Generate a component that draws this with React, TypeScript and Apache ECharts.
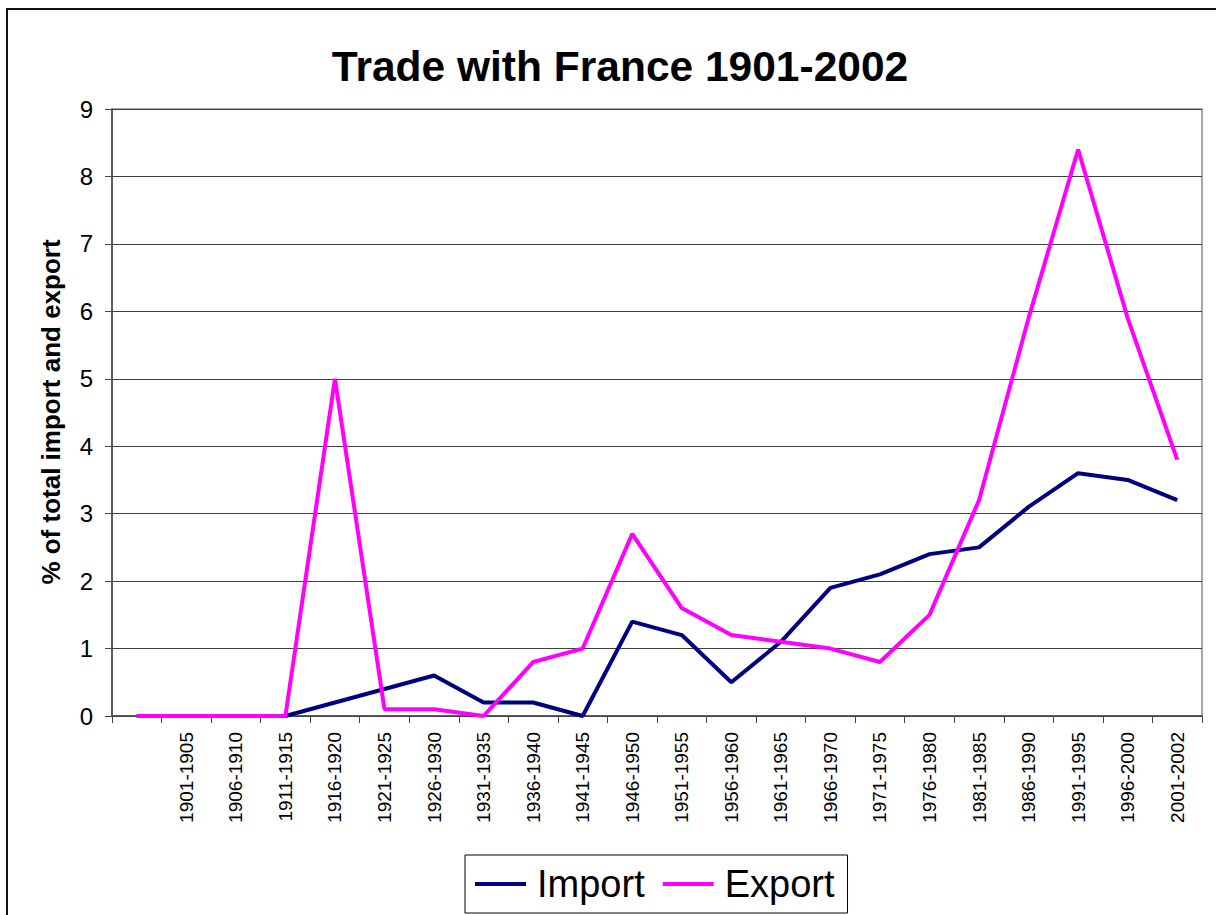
import React, { useEffect, useRef } from "react";
import * as echarts from "echarts";

const categories = [
  "",
  "1901-1905",
  "1906-1910",
  "1911-1915",
  "1916-1920",
  "1921-1925",
  "1926-1930",
  "1931-1935",
  "1936-1940",
  "1941-1945",
  "1946-1950",
  "1951-1955",
  "1956-1960",
  "1961-1965",
  "1966-1970",
  "1971-1975",
  "1976-1980",
  "1981-1985",
  "1986-1990",
  "1991-1995",
  "1996-2000",
  "2001-2002",
];

const importValues = [0, 0, 0, 0, 0.2, 0.4, 0.6, 0.2, 0.2, 0, 1.4, 1.2, 0.5, 1.1, 1.9, 2.1, 2.4, 2.5, 3.1, 3.6, 3.5, 3.2];
const exportValues = [0, 0, 0, 0, 5.0, 0.1, 0.1, 0, 0.8, 1.0, 2.7, 1.6, 1.2, 1.1, 1.0, 0.8, 1.5, 3.2, 5.9, 8.4, 5.9, 3.8];

const titleText = "Trade with France 1901-2002";
const yAxisTitle = "% of total import and export";

const FONT = "'Liberation Sans', Arial, sans-serif";

export default function App() {
  const ref = useRef<HTMLDivElement>(null);

  useEffect(() => {
    if (!ref.current) return;
    const chart = echarts.init(ref.current, undefined, { renderer: "svg" });
    chart.setOption({
      animation: false,
      backgroundColor: "#ffffff",
      title: {
        text: titleText,
        left: 615,
        top: 40,
        textAlign: "center",
        textStyle: { fontFamily: FONT, fontSize: 42.5, fontWeight: "bold", color: "#000" },
      },
      graphic: [
        {
          type: "rect",
          shape: { x: 7, y: 9, width: 1400, height: 1200 },
          style: { fill: "none", stroke: "#111", lineWidth: 2 },
          silent: true,
        },
        {
          type: "text",
          x: 51,
          y: 412,
          rotation: Math.PI / 2,
          style: {
            text: yAxisTitle,
            fontFamily: FONT,
            fontSize: 26,
            fontWeight: "bold",
            fill: "#000",
            textAlign: "center",
            textVerticalAlign: "middle",
          },
        },
      ],
      legend: {
        left: 465,
        top: 855,
        orient: "horizontal",
        padding: [9, 13, 9, 10],
        itemGap: 18,
        itemWidth: 51,
        itemHeight: 4,
        icon: "rect",
        borderColor: "#000",
        borderWidth: 1,
        textStyle: { fontFamily: FONT, fontSize: 38, color: "#000", lineHeight: 40, padding: [0, 0, 0, 6] },
        data: ["Import", "Export"],
      },
      grid: {
        left: 112,
        top: 109,
        right: 14,
        bottom: 199,
        show: true,
        borderColor: "#8c8c8c",
        borderWidth: 1.5,
        backgroundColor: "transparent",
      },
      xAxis: {
        type: "category",
        data: categories,
        boundaryGap: true,
        axisLine: { show: true, lineStyle: { color: "#444", width: 1.5 } },
        axisTick: { show: true, interval: 0, length: 7, lineStyle: { color: "#444" } },
        axisLabel: {
          interval: 0,
          rotate: 90,
          margin: 16,
          fontFamily: FONT,
          fontSize: 19,
          color: "#000",
        },
        splitLine: { show: false },
      },
      yAxis: {
        type: "value",
        min: 0,
        max: 9,
        interval: 1,
        axisLine: { show: true, lineStyle: { color: "#444", width: 1.5 } },
        axisTick: { show: true, length: 7, lineStyle: { color: "#444" } },
        axisLabel: { margin: 19, fontFamily: FONT, fontSize: 24, color: "#000" },
        splitLine: { show: true, lineStyle: { color: "#404040", width: 1 } },
      },
      series: [
        {
          name: "Import",
          type: "line",
          data: importValues,
          symbol: "none",
          lineStyle: { color: "#000080", width: 4 },
          itemStyle: { color: "#000080" },
        },
        {
          name: "Export",
          type: "line",
          data: exportValues,
          symbol: "none",
          lineStyle: { color: "#ff00ff", width: 4 },
          itemStyle: { color: "#ff00ff" },
        },
      ],
    });
    return () => chart.dispose();
  }, []);

  return (
    <div
      ref={ref}
      style={{ position: "absolute", left: 0, top: 0, width: 1216, height: 915 }}
    />
  );
}
